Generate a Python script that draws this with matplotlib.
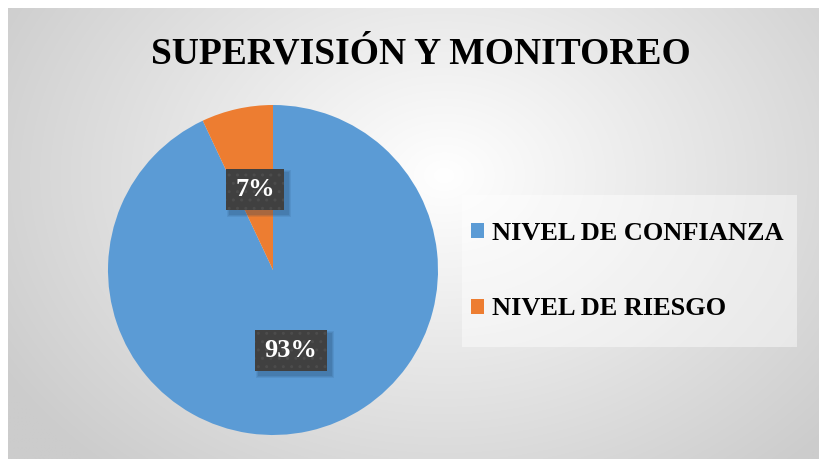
import numpy as np
import matplotlib
matplotlib.use('Agg')
from matplotlib import pyplot as plt
from matplotlib.patches import Patch, Rectangle

title = 'SUPERVISIÓN Y MONITOREO'
categories = ['NIVEL DE CONFIANZA', 'NIVEL DE RIESGO']
values = [93, 7]
colors = ['#5b9bd5', '#ed7d31']

W, H = 820, 459
fig = plt.figure(figsize=(W / 100, H / 100), dpi=100)
fig.patch.set_facecolor('white')
plt.rcParams['font.family'] = ['Liberation Serif', 'DejaVu Serif']

# background with radial gradient
bg = fig.add_axes([0, 0, 1, 1])
yy, xx = np.mgrid[0:H, 0:W]
d = np.hypot(xx - 440, (yy - 170) * 1.3) / 520
shade = 1.0 - 0.2 * np.clip(d, 0, 1)
bg.imshow(np.dstack([shade] * 3), extent=(8, W, H, 8), origin='upper',
          interpolation='bilinear', zorder=0)
bg.set_xlim(0, W)
bg.set_ylim(H, 0)
bg.axis('off')

bg.text(421, 54, title, ha='center', va='center', fontsize=27,
        fontweight='bold', color='black')

# legend box
bg.add_patch(Rectangle((462, 195), 335, 152, facecolor='white', alpha=0.45,
                       edgecolor='none', zorder=1))

# pie
cx, cy, r = 273, 270, 165
ax = fig.add_axes([(cx - r) / W, (H - cy - r) / H, 2 * r / W, 2 * r / H])
wedges, texts, autotexts = ax.pie(values, colors=colors, startangle=90,
                                  counterclock=False, autopct='%1.0f%%',
                                  pctdistance=0.5,
                                  wedgeprops=dict(linewidth=0))
ax.set_xlim(-1, 1)
ax.set_ylim(-1, 1)
ax.set_aspect('equal')
for t in autotexts:
    t.set_color('white')
    t.set_fontsize(19)
    t.set_fontweight('bold')
    t.set_zorder(5)
    t.set_bbox(dict(boxstyle='square,pad=0.35', facecolor='#404040',
                    edgecolor='#4c4c4c', linewidth=0, hatch='..'))

# soft shadow behind label boxes
fig.canvas.draw()
inv = ax.transAxes.inverted()
for t in autotexts:
    ext = t.get_bbox_patch().get_window_extent()
    for k, a in [(3, 0.10), (2, 0.12), (1, 0.15)]:
        (x0, y0), (x1, y1) = inv.transform([(ext.x0 + 4 - k, ext.y0 - 4 - k),
                                            (ext.x1 + 4 + k, ext.y1 - 4 + k)])
        ax.add_patch(Rectangle((x0, y0), x1 - x0, y1 - y0, transform=ax.transAxes,
                               facecolor='#1f3f60', alpha=a, linewidth=0,
                               zorder=4))

handles = [Patch(facecolor=c, edgecolor='none') for c in colors]
leg = fig.legend(handles, categories, loc='center left',
                 bbox_to_anchor=(471 / W, 1 - 271 / H), frameon=False,
                 prop=dict(size=19, weight='bold'), handlelength=0.5,
                 handleheight=0.5, handletextpad=0.3, labelspacing=2.0,
                 borderpad=0, borderaxespad=0)

fig.savefig('out.png', dpi=100)
